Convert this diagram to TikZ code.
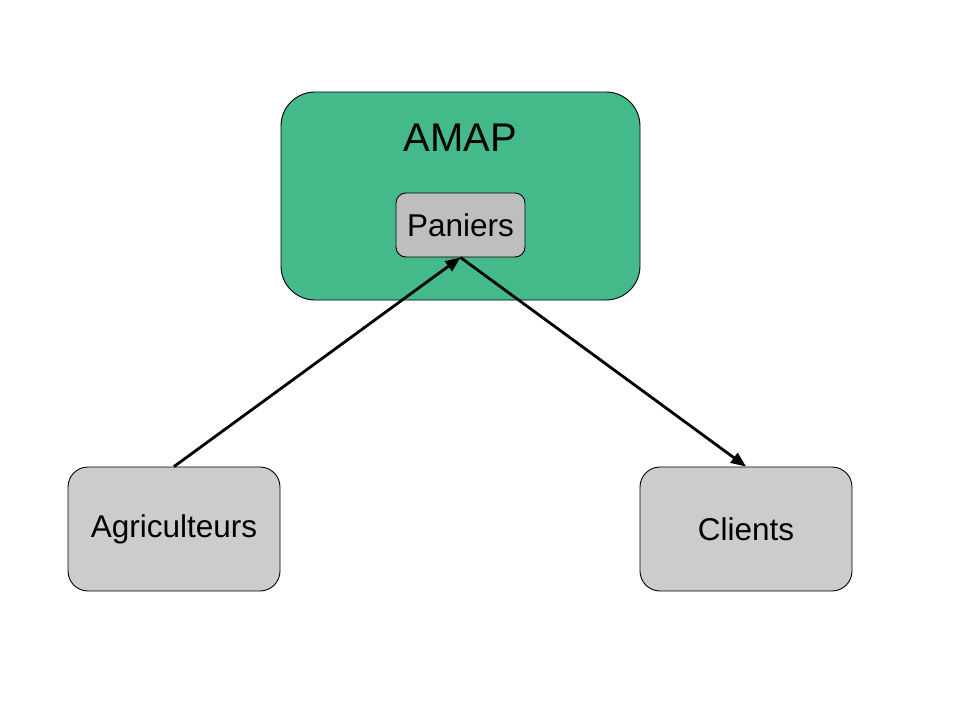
\documentclass[tikz,border=0pt]{standalone}
\usepackage{fontspec}
\setmainfont{Liberation Sans}
\usetikzlibrary{arrows.meta}
\definecolor{amapgreen}{RGB}{68,185,138}
\definecolor{boxgray}{RGB}{204,204,204}
\definecolor{pangray}{RGB}{190,190,190}
\begin{document}
\begin{tikzpicture}[x=1pt,y=-1pt,
  bigbox/.style={draw=black,line width=0.9pt,rounded corners=20pt,fill=boxgray,minimum width=212pt,minimum height=124pt,inner sep=0pt,font=\fontsize{31.5}{38}\selectfont},
  conn/.style={line width=2.8pt,-{Triangle[length=15pt,width=12pt]}}]
\useasboundingbox (0,0) rectangle (960,720);
\fill[white] (0,0) rectangle (960,720);
\node[draw=black,line width=0.9pt,rounded corners=34pt,fill=amapgreen,minimum width=359pt,minimum height=208pt,inner sep=0pt] (amap) at (460.5,196) {};
\node[font=\fontsize{40}{48}\selectfont,inner sep=0pt] (amaplabel) at (460.5,138) {AMAP};
\node[draw=black,line width=0.9pt,rounded corners=10pt,fill=pangray,minimum width=129pt,minimum height=64pt,inner sep=0pt,font=\fontsize{31.5}{38}\selectfont] (paniers) at (460.5,225) {Paniers};
\node[bigbox] (agri) at (174,529) {\raisebox{1.5pt}{Agriculteurs}};
\node[bigbox] (clients) at (746,529) {Clients};
\draw[conn] (agri.north) -- (paniers.south);
\draw[conn] (paniers.south) -- (clients.north);
\end{tikzpicture}
\end{document}
